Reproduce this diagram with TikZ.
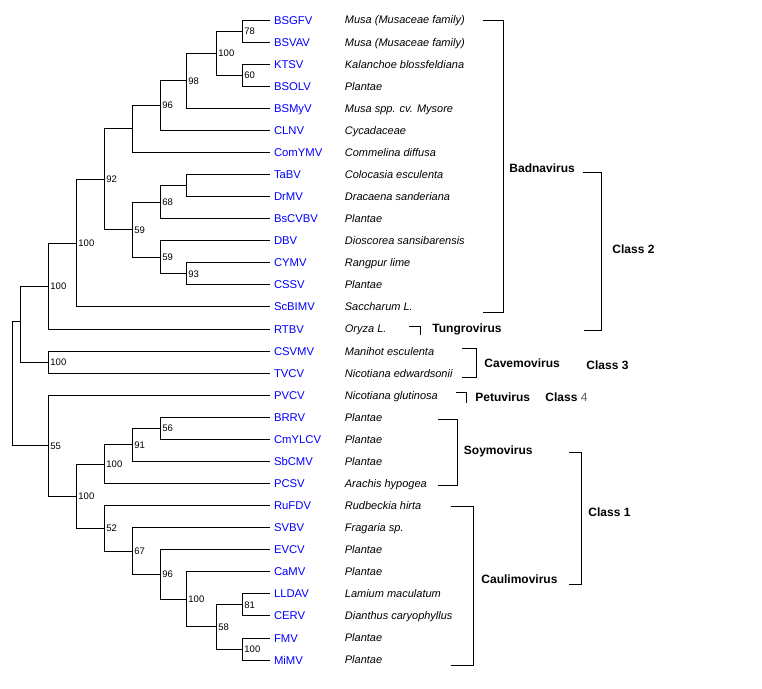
\documentclass[tikz,border=0pt]{standalone}
\usepackage{fontspec}
\setmainfont{Liberation Sans}
\usepackage{tikz}
\usetikzlibrary{positioning}
\definecolor{leafblue}{RGB}{0,0,255}
\definecolor{classgray}{RGB}{90,90,90}

\begin{document}
\begin{tikzpicture}[x=1pt, y=-1pt, node distance=22.07pt, line width=0.9pt,
    leaf/.style={text=leafblue, font=\fontsize{11.3}{12}\selectfont, text width=62pt, align=left,
                 inner xsep=4pt, inner ysep=0pt, text height=8.1pt, text depth=0pt},
    host/.style={font=\fontsize{11}{12}\itshape, inner xsep=4pt, inner ysep=0pt, text height=7.9pt, text depth=0pt},
    boot/.style={anchor=west, font=\fontsize{9.5}{10}\selectfont, inner xsep=2pt, inner ysep=0pt, text height=6.8pt, text depth=0pt},
    group/.style={anchor=west, font=\fontsize{12}{13}\bfseries, inner sep=0pt, text height=8.6pt, text depth=0pt},
    elbow/.style={to path={|- (\tikztotarget)}}]
    \useasboundingbox (0,0) rectangle (762,688);

    % leaves
    \node[leaf] (BSGFV) at (305,20) {BSGFV};
    \node[leaf] (BSVAV) [below of=BSGFV] {BSVAV};
    \node[leaf] (KTSV) [below of=BSVAV] {KTSV};
    \node[leaf] (BSOLV) [below of=KTSV] {BSOLV};
    \node[leaf] (BSMyV) [below of=BSOLV] {BSMyV};
    \node[leaf] (CLNV) [below of=BSMyV] {CLNV};
    \node[leaf] (ComYMV) [below of=CLNV] {ComYMV};
    \node[leaf] (TaBV) [below of=ComYMV] {TaBV};
    \node[leaf] (DrMV) [below of=TaBV] {DrMV};
    \node[leaf] (BsCVBV) [below of=DrMV] {BsCVBV};
    \node[leaf] (DBV) [below of=BsCVBV] {DBV};
    \node[leaf] (CYMV) [below of=DBV] {CYMV};
    \node[leaf] (CSSV) [below of=CYMV] {CSSV};
    \node[leaf] (ScBIMV) [below of=CSSV] {ScBIMV};
    \node[leaf] (RTBV) [below of=ScBIMV] {RTBV};
    \node[leaf] (CSVMV) [below of=RTBV] {CSVMV};
    \node[leaf] (TVCV) [below of=CSVMV] {TVCV};
    \node[leaf] (PVCV) [below of=TVCV] {PVCV};
    \node[leaf] (BRRV) [below of=PVCV] {BRRV};
    \node[leaf] (CmYLCV) [below of=BRRV] {CmYLCV};
    \node[leaf] (SbCMV) [below of=CmYLCV] {SbCMV};
    \node[leaf] (PCSV) [below of=SbCMV] {PCSV};
    \node[leaf] (RuFDV) [below of=PCSV] {RuFDV};
    \node[leaf] (SVBV) [below of=RuFDV] {SVBV};
    \node[leaf] (EVCV) [below of=SVBV] {EVCV};
    \node[leaf] (CaMV) [below of=EVCV] {CaMV};
    \node[leaf] (LLDAV) [below of=CaMV] {LLDAV};
    \node[leaf] (CERV) [below of=LLDAV] {CERV};
    \node[leaf] (FMV) [below of=CERV] {FMV};
    \node[leaf] (MiMV) [below of=FMV] {MiMV};

    % hosts
    \node[host, right=0pt of BSGFV] (hBSGFV) {Musa (Musaceae family)};
    \node[host, right=0pt of BSVAV] (hBSVAV) {Musa (Musaceae family)};
    \node[host, right=0pt of KTSV] (hKTSV) {Kalanchoe blossfeldiana};
    \node[host, right=0pt of BSOLV] (hBSOLV) {Plantae};
    \node[host, right=0pt of BSMyV] (hBSMyV) {Musa spp. cv. Mysore};
    \node[host, right=0pt of CLNV] (hCLNV) {Cycadaceae};
    \node[host, right=0pt of ComYMV] (hComYMV) {Commelina diffusa};
    \node[host, right=0pt of TaBV] (hTaBV) {Colocasia esculenta};
    \node[host, right=0pt of DrMV] (hDrMV) {Dracaena sanderiana};
    \node[host, right=0pt of BsCVBV] (hBsCVBV) {Plantae};
    \node[host, right=0pt of DBV] (hDBV) {Dioscorea sansibarensis};
    \node[host, right=0pt of CYMV] (hCYMV) {Rangpur lime};
    \node[host, right=0pt of CSSV] (hCSSV) {Plantae};
    \node[host, right=0pt of ScBIMV] (hScBIMV) {Saccharum L.};
    \node[host, right=0pt of RTBV] (hRTBV) {Oryza L.};
    \node[host, right=0pt of CSVMV] (hCSVMV) {Manihot esculenta};
    \node[host, right=0pt of TVCV] (hTVCV) {Nicotiana edwardsonii};
    \node[host, right=0pt of PVCV] (hPVCV) {Nicotiana glutinosa};
    \node[host, right=0pt of BRRV] (hBRRV) {Plantae};
    \node[host, right=0pt of CmYLCV] (hCmYLCV) {Plantae};
    \node[host, right=0pt of SbCMV] (hSbCMV) {Plantae};
    \node[host, right=0pt of PCSV] (hPCSV) {Arachis hypogea};
    \node[host, right=0pt of RuFDV] (hRuFDV) {Rudbeckia hirta};
    \node[host, right=0pt of SVBV] (hSVBV) {Fragaria sp.};
    \node[host, right=0pt of EVCV] (hEVCV) {Plantae};
    \node[host, right=0pt of CaMV] (hCaMV) {Plantae};
    \node[host, right=0pt of LLDAV] (hLLDAV) {Lamium maculatum};
    \node[host, right=0pt of CERV] (hCERV) {Dianthus caryophyllus};
    \node[host, right=0pt of FMV] (hFMV) {Plantae};
    \node[host, right=0pt of MiMV] (hMiMV) {Plantae};

    % internal nodes with bootstrap values
    \node[boot] (n78) at (242,31) {78};
    \node[boot] (n60) at (242,75.2) {60};
    \node[boot] (n100a) at (216,53.1) {100};
    \node[boot] (n98) at (186,80.7) {98};
    \node[boot] (n96) at (160,105.5) {96};
    \coordinate (c1) at (132,128);
    \coordinate (c2) at (186,185.5);
    \node[boot] (n68) at (160,202) {68};
    \node[boot] (n93) at (186,273.8) {93};
    \node[boot] (n59b) at (160,257.3) {59};
    \node[boot] (n59a) at (132,229.6) {59};
    \node[boot] (n92) at (104,179.3) {92};
    \node[boot] (n100b) at (76,243.1) {100};
    \node[boot] (n100c) at (48,286) {100};
    \node[boot] (n100d) at (48,362) {100};
    \coordinate (c3) at (20,321);
    \node[boot] (n56) at (160,428.3) {56};
    \node[boot] (n91) at (132,444.8) {91};
    \node[boot] (n100e) at (104,464.1) {100};
    \node[boot] (n81) at (242,604.8) {81};
    \node[boot] (n100f) at (242,649) {100};
    \node[boot] (n58) at (216,626.9) {58};
    \node[boot] (n100g) at (186,599.3) {100};
    \node[boot] (n96b) at (160,574.5) {96};
    \node[boot] (n67) at (132,551) {67};
    \node[boot] (n52) at (104,528.3) {52};
    \node[boot] (n100h) at (76,496.2) {100};
    \node[boot] (n55) at (48,445.7) {55};
    \coordinate (c0) at (12,385);

    % branches
    \path[draw]
    (n78.west) edge[elbow] (BSGFV.west) edge[elbow] (BSVAV.west)
    (n60.west) edge[elbow] (KTSV.west) edge[elbow] (BSOLV.west)
    (n100a.west) edge[elbow] (n78.west) edge[elbow] (n60.west)
    (n98.west) edge[elbow] (n100a.west) edge[elbow] (BSMyV.west)
    (n96.west) edge[elbow] (n98.west) edge[elbow] (CLNV.west)
    (c1) edge[elbow] (n96.west) edge[elbow] (ComYMV.west)
    (c2) edge[elbow] (TaBV.west) edge[elbow] (DrMV.west)
    (n68.west) edge[elbow] (c2) edge[elbow] (BsCVBV.west)
    (n93.west) edge[elbow] (CYMV.west) edge[elbow] (CSSV.west)
    (n59b.west) edge[elbow] (DBV.west) edge[elbow] (n93.west)
    (n59a.west) edge[elbow] (n68.west) edge[elbow] (n59b.west)
    (n92.west) edge[elbow] (c1) edge[elbow] (n59a.west)
    (n100b.west) edge[elbow] (n92.west) edge[elbow] (ScBIMV.west)
    (n100c.west) edge[elbow] (n100b.west) edge[elbow] (RTBV.west)
    (n100d.west) edge[elbow] (CSVMV.west) edge[elbow] (TVCV.west)
    (c3) edge[elbow] (n100c.west) edge[elbow] (n100d.west)
    (n56.west) edge[elbow] (BRRV.west) edge[elbow] (CmYLCV.west)
    (n91.west) edge[elbow] (n56.west) edge[elbow] (SbCMV.west)
    (n100e.west) edge[elbow] (n91.west) edge[elbow] (PCSV.west)
    (n81.west) edge[elbow] (LLDAV.west) edge[elbow] (CERV.west)
    (n100f.west) edge[elbow] (FMV.west) edge[elbow] (MiMV.west)
    (n58.west) edge[elbow] (n81.west) edge[elbow] (n100f.west)
    (n100g.west) edge[elbow] (CaMV.west) edge[elbow] (n58.west)
    (n96b.west) edge[elbow] (EVCV.west) edge[elbow] (n100g.west)
    (n67.west) edge[elbow] (SVBV.west) edge[elbow] (n96b.west)
    (n52.west) edge[elbow] (RuFDV.west) edge[elbow] (n67.west)
    (n100h.west) edge[elbow] (n100e.west) edge[elbow] (n52.west)
    (n55.west) edge[elbow] (PVCV.west) edge[elbow] (n100h.west)
    (c0) edge[elbow] (c3) edge[elbow] (n55.west);

    % genus brackets
    \draw (483,20) -| (503,312.7) -- (483,312.7);
    \draw (409,326) -| (420,335);
    \draw (462,348.3) -| (476,377.3) -- (462,377.3);
    \draw (456,392.7) -| (466.7,402.7);
    \draw (438,419) -| (457.3,485.7) -- (438,485.7);
    \draw (451,506.7) -| (473.3,665) -- (451,665);
    \node[group] (badna) at (509,168.3) {Badnavirus};
    \node[group] (tungro) at (432,327.7) {Tungrovirus};
    \node[group] (cavemo) at (484,362.7) {Cavemovirus};
    \node[group] (petu) at (475,397.3) {Petuvirus};
    \node[group] (soymo) at (463.5,450) {Soymovirus};
    \node[group] (caulimo) at (481,579.3) {Caulimovirus};

    % class brackets
    \draw (583,172.3) -| (601,330) -- (584,330);
    \draw (569,452.3) -| (581.3,584.3) -- (569,584.3);
    \node[group] (class2) at (612,249.3) {Class 2};
    \node[group] (class3) at (586,365) {Class 3};
    \node[group] (class4) at (545,397.3) {Class {\mdseries\color{classgray}4}};
    \node[group] (class1) at (588,511.7) {Class 1};
\end{tikzpicture}
\end{document}
